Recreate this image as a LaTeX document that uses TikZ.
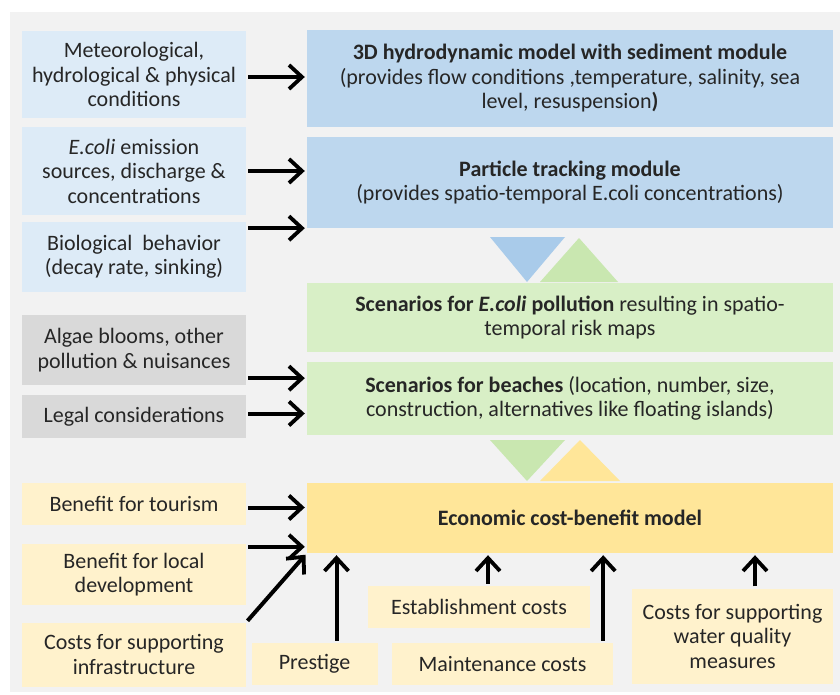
\documentclass[tikz,border=0pt]{standalone}
\usepackage{fontspec}
\setmainfont{Carlito}
\usetikzlibrary{arrows.meta,calc}
\definecolor{bgray}{HTML}{F2F2F2}
\definecolor{lblue}{HTML}{DDEBF7}
\definecolor{mblue}{HTML}{BDD7EE}
\definecolor{tblue}{HTML}{A9CBEA}
\definecolor{lgreen}{HTML}{D8EFC6}
\definecolor{tgreen}{HTML}{C9E7B0}
\definecolor{lgray}{HTML}{D9D9D9}
\definecolor{lbeige}{HTML}{FFF2CC}
\definecolor{myellow}{HTML}{FFE699}
\tikzset{
  box/.style={rectangle, inner sep=0pt, align=center, font=\fontsize{22}{24.5}\selectfont, text=black!85},
  flow/.style={line width=4pt, -{Straight Barb[length=13pt,width=24pt,line width=3.8pt]}, shorten <=2pt, shorten >=2pt}
}
\begin{document}
\begin{tikzpicture}[x=1pt,y=-1pt]
\useasboundingbox (0,0) rectangle (840,695);
\fill[white] (0,0) rectangle (840,695);
\fill[bgray] (10,12) rectangle (840,692);
% left column
\node[box, fill=lblue, minimum width=224pt, minimum height=87pt] (meteo) at (134,74.5) {Meteorological,\\ hydrological \& physical\\ conditions};
\node[box, fill=lblue, minimum width=224pt, minimum height=88pt] (ecoli) at (134,171) {\textit{E.coli} emission\\ sources, discharge \&\\ concentrations};
\node[box, fill=lblue, minimum width=224pt, minimum height=70pt] (bio) at (134,257) {Biological\ \ behavior\\ (decay rate, sinking)};
\node[box, fill=lgray, minimum width=224pt, minimum height=70pt] (algae) at (134,350) {Algae blooms, other\\ pollution \& nuisances};
\node[box, fill=lgray, minimum width=224pt, minimum height=43pt] (legal) at (134,416.5) {Legal considerations};
\node[box, fill=lbeige, minimum width=224pt, minimum height=42pt] (tourism) at (134,504) {Benefit for tourism};
\node[box, fill=lbeige, minimum width=224pt, minimum height=61pt] (local) at (134,574.5) {Benefit for local\\ development};
\node[box, fill=lbeige, minimum width=224pt, minimum height=64pt] (infra) at (134,654.5) {Costs for supporting\\ infrastructure};
% main column
\node[box, fill=mblue, minimum width=526pt, minimum height=97pt] (hydro) at (570,78.5) {\textbf{3D hydrodynamic model with sediment module}\\ (provides flow conditions ,temperature, salinity, sea\\ level, resuspension\textbf{)}};
\node[box, fill=mblue, minimum width=526pt, minimum height=91pt] (particle) at (570,182.5) {\textbf{Particle tracking module}\\ (provides spatio-temporal E.coli concentrations)};
\node[box, fill=lgreen, minimum width=526pt, minimum height=69pt] (scen1) at (570,317.5) {\textbf{Scenarios for \textit{E.coli} pollution} resulting in spatio-\\temporal risk maps};
\node[box, fill=lgreen, minimum width=526pt, minimum height=73pt] (scen2) at (570,398.5) {\textbf{Scenarios for beaches} (location, number, size,\\ construction, alternatives like floating islands)};
\node[box, fill=myellow, minimum width=526pt, minimum height=70pt] (econ) at (570,518) {\textbf{Economic cost-benefit model}};
% bottom boxes
\node[box, fill=lbeige, minimum width=126pt, minimum height=42pt] (prestige) at (314.5,664) {Prestige};
\node[box, fill=lbeige, minimum width=222pt, minimum height=42pt] (establish) at (479,607) {Establishment costs};
\node[box, fill=lbeige, minimum width=221pt, minimum height=42pt] (maint) at (502.5,664) {Maintenance costs};
\node[box, fill=lbeige, minimum width=201pt, minimum height=95pt] (water) at (732.5,636) {Costs for supporting\\ water quality\\ measures};
% triangles
\fill[tblue] (490,237) -- (565,237) -- (527,282) -- cycle;
\fill[tgreen] (540,282) -- (618,282) -- (579,238) -- cycle;
\fill[tgreen] (490,440) -- (565,440) -- (527,481) -- cycle;
\fill[myellow] (540,481) -- (620,481) -- (580,440) -- cycle;
% arrows
\draw[flow] ([yshift=-2.5pt]meteo.east) -- ([yshift=-2.5pt]meteo.east -| hydro.west);
\draw[flow] (ecoli.east) -- (ecoli.east -| particle.west);
\draw[flow] (particle.south west -| bio.east) -- (particle.south west);
\draw[flow] ([yshift=7pt]algae.south east) -- ([yshift=7pt]algae.south east -| scen2.west);
\draw[flow] ([yshift=3pt]legal.east) -- ([yshift=3pt]legal.east -| scen2.west);
\draw[flow] ([yshift=-3.5pt]tourism.east) -- ([yshift=-3.5pt]tourism.east -| econ.west);
\draw[flow] ([yshift=-3pt]local.north east) -- ([yshift=-3pt]local.north east -| econ.west);
\draw[flow] (infra.north east) -- (econ.south west);
\draw[flow] ([xshift=22pt]prestige.north) -- ([xshift=22pt]prestige.north |- econ.south);
\draw[flow] ([xshift=9pt]establish.north) -- ([xshift=9pt]establish.north |- econ.south);
\draw[flow] ([xshift=-10pt]maint.north east) -- ([xshift=-10pt]maint.north east |- econ.south);
\draw[flow] ([xshift=22.5pt]water.north) -- ([xshift=22.5pt]water.north |- econ.south);
\end{tikzpicture}
\end{document}
